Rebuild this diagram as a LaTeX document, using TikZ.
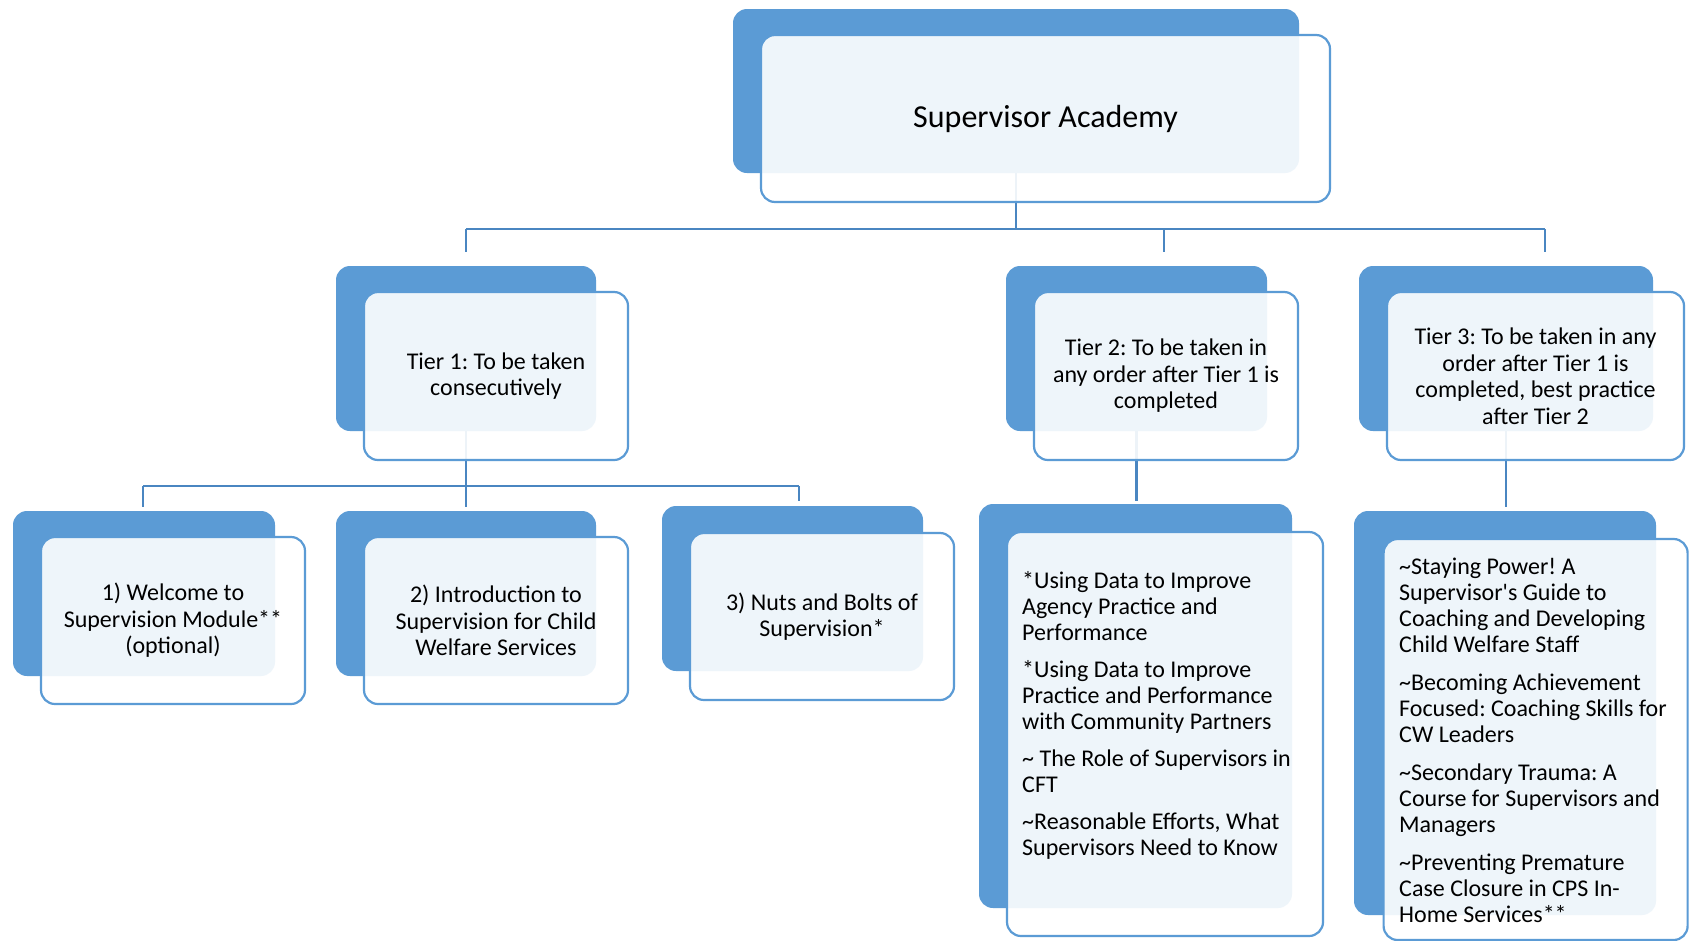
\documentclass[tikz,border=0pt]{standalone}
\usepackage{fontspec}
\setmainfont{Carlito}
\frenchspacing
\definecolor{accent}{HTML}{5B9BD5}
\definecolor{linec}{HTML}{4A86C1}
\begin{document}
\begin{tikzpicture}[x=1pt,y=-1pt,
  back/.style={draw=none, fill=accent, rounded corners=14pt, inner sep=0pt},
  front/.style={draw=accent, line width=2.2pt, fill=white, fill opacity=0.9, text opacity=1,
    rounded corners=14pt, inner sep=0pt, align=center, font=\fontsize{24}{26.5}\selectfont\frenchspacing},
  listtext/.style={inner sep=0pt, align=left, font=\fontsize{24}{26}\selectfont\frenchspacing, anchor=north west},
  conn/.style={draw=linec, line width=2.4pt}]
\fill[white] (0,0) rectangle (1691,940);
\useasboundingbox (0,0) rectangle (1691,940);

% back boxes
\node[back, minimum width=566pt, minimum height=164pt] (ab) at (1016,91) {};
\node[back, minimum width=260pt, minimum height=165pt] (t1b) at (466,348.5) {};
\node[back, minimum width=261pt, minimum height=165pt] (t2b) at (1136.5,348.5) {};
\node[back, minimum width=294pt, minimum height=165pt] (t3b) at (1506,348.5) {};
\node[back, minimum width=262pt, minimum height=165pt] (b1b) at (144,593.5) {};
\node[back, minimum width=260pt, minimum height=165pt] (b2b) at (466,593.5) {};
\node[back, minimum width=261pt, minimum height=165pt] (b3b) at (792.5,588.5) {};
\node[back, minimum width=313pt, minimum height=404pt] (l2b) at (1135.5,706) {};
\node[back, minimum width=302pt, minimum height=404pt] (l3b) at (1505,713) {};

% connectors
\coordinate (busL) at (466,229);
\coordinate (busR) at (1545,229);
\coordinate (d1) at (466,252);
\coordinate (d2) at (1164,252);
\coordinate (d3) at (1545,252);
\draw[conn] (ab.south) -- (ab.south |- busL);
\draw[conn] (busL) -- (busR);
\draw[conn] (busL) -- (d1);
\draw[conn] (d2 |- busL) -- (d2);
\draw[conn] (busR) -- (d3);

\coordinate (cL) at (143,486);
\coordinate (cR) at (799,486);
\coordinate (e1) at (143,507);
\coordinate (e2) at (466,507);
\coordinate (e3) at (799,501);
\draw[conn] (t1b.south) -- (t1b.south |- cL);
\draw[conn] (cL) -- (cR);
\draw[conn] (cL) -- (e1);
\draw[conn] (e2 |- cL) -- (e2);
\draw[conn] (cR) -- (e3);

\coordinate (f2) at (1136.5,501);
\coordinate (f3) at (1506,507);
\draw[conn] (t2b.south) -- (f2);
\draw[conn] (t3b.south) -- (f3);

% front boxes
\node[front, minimum width=569pt, minimum height=167pt, font=\fontsize{32}{36}\selectfont] (a) at (1045.5,118.5) {Supervisor Academy};
\node[front, minimum width=264pt, minimum height=168pt] (t1) at (496,376) {Tier 1: To be taken\\consecutively};
\node[front, minimum width=264pt, minimum height=168pt] (t2) at (1166,376) {Tier 2: To be taken in\\any order after Tier 1 is\\completed};
\node[front, minimum width=297pt, minimum height=168pt] (t3) at (1535.5,376) {Tier 3: To be taken in any\\order after Tier 1 is\\completed, best practice\\after Tier 2};
\node[front, minimum width=264pt, minimum height=167pt] (b1) at (173,620.5) {1) Welcome to\\Supervision Module**\\(optional)};
\node[front, minimum width=264pt, minimum height=167pt] (b2) at (496,620.5) {2) Introduction to\\Supervision for Child\\Welfare Services};
\node[front, minimum width=264pt, minimum height=167pt] (b3) at (822,616.5) {3) Nuts and Bolts of\\Supervision*};
\node[front, minimum width=316pt, minimum height=404pt] (l2) at (1165,734) {};
\node[front, minimum width=304pt, minimum height=401pt] (l3) at (1535.6,739.5) {};

% list texts
\node[listtext] (l2t) at (1022,571.5) {*Using Data to Improve\\Agency Practice and\\Performance\\[11pt]
*Using Data to Improve\\Practice and Performance\\with Community Partners\\[11pt]
\textasciitilde{} The Role of Supervisors in\\CFT\\[11pt]
\textasciitilde Reasonable Efforts, What\\Supervisors Need to Know};
\node[listtext] (l3t) at (1399,558) {\textasciitilde Staying Power! A\\Supervisor\textquotesingle s Guide to\\Coaching and Developing\\Child Welfare Staff\\[12pt]
\textasciitilde Becoming Achievement\\Focused: Coaching Skills for\\CW Leaders\\[12pt]
\textasciitilde Secondary Trauma: A\\Course for Supervisors and\\Managers\\[12pt]
\textasciitilde Preventing Premature\\Case Closure in CPS In-\\Home Services**};
\end{tikzpicture}
\end{document}
